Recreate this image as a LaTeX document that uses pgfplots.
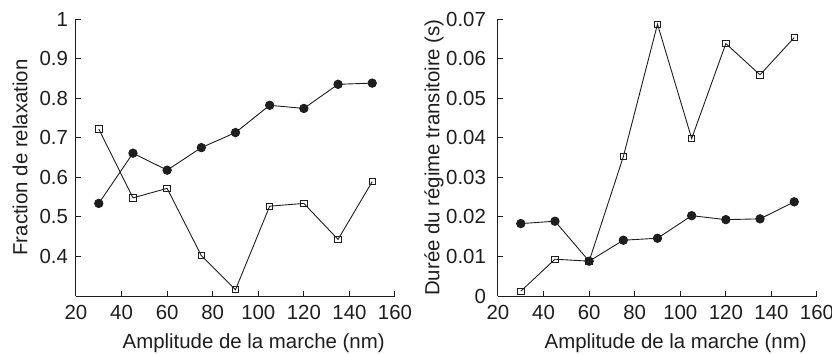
\documentclass[border=0pt]{standalone}
\usepackage{fontspec}
\setmainfont{Liberation Sans}
\usepackage{pgfplots}
\pgfplotsset{compat=1.18}
\definecolor{ink}{HTML}{1E1E1E}
\pgfplotsset{
  myax/.style={
    scale only axis,
    width=159.5pt, height=138.5pt,
    xmin=20, xmax=160,
    xtick={20,40,...,160},
    scaled ticks=false,
    axis x line*=bottom, axis y line*=left,
    axis line style={-, ink, line width=0.5pt},
    tick style={ink, line width=0.5pt},
    tick align=inside,
    major tick length=2.5pt,
    /pgf/number format/assume math mode=true,
    tick label style={font=\fontsize{10.2}{12}\selectfont, text=ink},
    label style={font=\fontsize{10.2}{12}\selectfont, text=ink},
    xticklabel style={yshift=-1pt},
    anchor=south west,
    clip=false,
  },
  sq/.style={ink, line width=0.45pt, mark=square, mark size=1.6pt, mark options={solid, line width=0.45pt, fill=white}},
  ci/.style={ink, line width=0.45pt, mark=*, mark size=2.1pt, mark options={fill=ink}},
}
\begin{document}
\begin{tikzpicture}
\path[use as bounding box] (0,0) rectangle (416pt,-177pt);
\begin{axis}[myax,
  at={(38pt,-148pt)},
  ymin=0.3, ymax=1,
  ytick={0.4,0.5,0.6,0.7,0.8,0.9,1},
  yticklabels={0.4,0.5,0.6,0.7,0.8,0.9,1},
  yticklabel style={xshift=-0.5pt},
  xlabel={Amplitude de la marche (nm)},
  ylabel={Fraction de relaxation},
  xlabel style={at={(axis description cs:0.557,-0.1697)}, anchor=center},
  ylabel style={at={(axis description cs:-0.1755,0.5)}, anchor=center},
]
\addplot[sq] coordinates {(30,0.722) (45,0.548) (60,0.572) (75,0.402) (90,0.316) (105,0.527) (120,0.534) (135,0.443) (150,0.589)};
\addplot[ci] coordinates {(30,0.534) (45,0.661) (60,0.618) (75,0.675) (90,0.713) (105,0.782) (120,0.774) (135,0.835) (150,0.838)};
\end{axis}
\begin{axis}[myax,
  at={(249pt,-148pt)},
  ymin=0, ymax=0.07,
  ytick={0,0.01,0.02,0.03,0.04,0.05,0.06,0.07},
  yticklabels={0,0.01,0.02,0.03,0.04,0.05,0.06,0.07},
  yticklabel style={xshift=-2.5pt},
  xlabel={Amplitude de la marche (nm)},
  ylabel={Durée du régime transitoire (s)},
  xlabel style={at={(axis description cs:0.557,-0.1697)}, anchor=center},
  ylabel style={at={(axis description cs:-0.2006,0.5)}, anchor=center},
]
\addplot[sq] coordinates {(30,0.0012) (45,0.0093) (60,0.0088) (75,0.0352) (90,0.0687) (105,0.0398) (120,0.0638) (135,0.0559) (150,0.0653)};
\addplot[ci] coordinates {(30,0.0183) (45,0.0189) (60,0.0088) (75,0.0141) (90,0.0146) (105,0.0203) (120,0.0193) (135,0.0195) (150,0.0238)};
\end{axis}
\end{tikzpicture}
\end{document}
